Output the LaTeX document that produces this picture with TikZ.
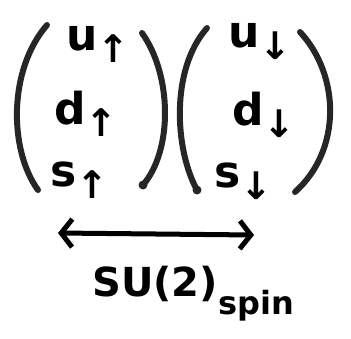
\documentclass[tikz,border=0pt]{standalone}
\usepackage{fontspec}
\setmainfont{DejaVu Sans}
\usetikzlibrary{arrows.meta}
\tikzset{
  paren/.style={line width=6pt, line cap=round, black!85},
  pdot/.style={fill=black!85, circle, inner sep=0pt, minimum size=9pt},
  lbl/.style={inner sep=0pt, anchor=base west, font=\bfseries\fontsize{44}{44}\selectfont},
  dblarrow/.style={line width=5pt, >={Straight Barb[length=11pt,width=28pt,line width=5pt]}, <->},
}
\newcommand{\qk}[2]{#1\raisebox{-12pt}{\fontsize{38}{38}\selectfont #2}}
\begin{document}
\begin{tikzpicture}[x=1pt,y=-1pt]
\useasboundingbox (0,0) rectangle (351,338);
% parentheses
\draw[paren] (47,25) .. controls (8,70) and (9,150) .. (38,190);
\draw[paren] (142,33) .. controls (172,75) and (173,150) .. (143,185);
\node[pdot] (d1) at (143,185) {};
\draw[paren] (207,28) .. controls (170,70) and (175,150) .. (197,190);
\node[pdot] (d2) at (197,190) {};
\draw[paren] (300,32) .. controls (340,75) and (342,150) .. (295,192);
% entries
\node[lbl] (uu) at (66,50) {\qk{u}{↑}};
\node[lbl] (du) at (54,124) {\qk{d}{↑}};
\node[lbl] (su) at (50,186) {\qk{s}{↑}};
\node[lbl] (ud) at (228,47) {\qk{u}{↓}};
\node[lbl] (dd) at (232,125) {\qk{d}{↓}};
\node[lbl] (sd) at (214,187) {\qk{s}{↓}};
% double arrow
\coordinate (al) at (58,233);
\coordinate (ar) at (254,235);
\draw[dblarrow] (al) -- (ar);
% label
\node[inner sep=0pt, anchor=base west, font=\bfseries\fontsize{40}{40}\selectfont] (su2) at (92,296) {SU(2)};
\node[inner sep=0pt, anchor=base west, font=\bfseries\fontsize{32}{32}\selectfont] (spin) at (218,314) {spin};
\end{tikzpicture}
\end{document}
